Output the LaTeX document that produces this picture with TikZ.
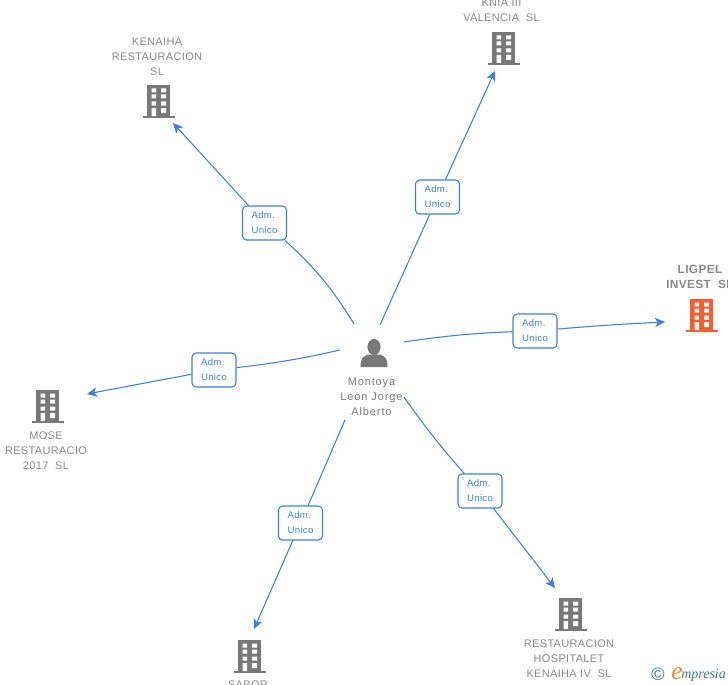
\documentclass[tikz,border=0pt]{standalone}
\usepackage{fontspec}
\setmainfont{Liberation Sans}
\newfontfamily\logofont{Liberation Serif}
\newfontfamily\trackedfont[LetterSpace=3]{Liberation Sans}
\newfontfamily\wideperson[LetterSpace=8]{Liberation Sans}
\usetikzlibrary{arrows.meta}
\definecolor{linkblue}{HTML}{3B82E4}
\definecolor{icongray}{HTML}{787878}
\definecolor{labelgray}{HTML}{8A8A8A}
\definecolor{personlabel}{HTML}{7A7A7A}
\definecolor{accent}{HTML}{FF5A2C}
\definecolor{logoteal}{HTML}{3F7C96}
\definecolor{logoorange}{HTML}{F08A1D}
\newcommand{\rolelabel}{\raisebox{-1.4pt}{Adm.}\\\raisebox{-1.4pt}{Unico}}
\tikzset{
  x=0.75pt,y=-0.75pt,
  linkline/.style={draw=linkblue,line width=0.8pt},
  linkarrow/.style={linkline,-{Stealth[length=7.5pt,width=7pt,inset=2pt]}},
  rolebox/.style={draw=linkblue,fill=white,rounded corners=3pt,line width=0.8pt,
    minimum width=33pt,minimum height=25.5pt,inner sep=0pt,align=left,text=linkblue,
    font=\trackedfont\fontsize{7.2}{11.25}\selectfont},
  entity/.style={text=labelgray,align=center,anchor=north,inner sep=0pt,
    font=\trackedfont\fontsize{8.25}{11.25}\selectfont},
  person/.style={entity,text=personlabel,font=\wideperson\fontsize{8.25}{11.25}\selectfont},
}
% building: #1 centre x, #2 bottom y, #3 colour, #4 name
\newcommand{\buildingicon}[4]{%
  \begin{scope}[shift={(#1,#2)}]
    \coordinate (#4) at (0,-16);
    \fill[#3] (-12,-33) rectangle (11,-2);
    \fill[#3] (-16,-2) rectangle (16,0);
    \fill[white] \foreach \r in {-29.5,-23.5,-16.5}{
      (-7.5,\r) rectangle (-3,\r+4) (2,\r) rectangle (7,\r+4)};
    \fill[white] (-7.5,-10) rectangle (-3,-2) (2,-10) rectangle (7,-5);
  \end{scope}}
\begin{document}
\begin{tikzpicture}
\useasboundingbox (0,0) rectangle (728,685);
\clip (0,0) rectangle (728,685);

% free ends of the connectors
\coordinate (kS) at (354,324); \coordinate (kE) at (173,123);
\coordinate (vS) at (380,325); \coordinate (vE) at (495,71);
\coordinate (lS) at (404,342); \coordinate (lE) at (665,322);
\coordinate (mS) at (340,350); \coordinate (mE) at (87,394);
\coordinate (sS) at (345,420); \coordinate (sE) at (254,629);
\coordinate (rS) at (404,397); \coordinate (rE) at (555,588);

% role boxes
\node[rolebox] (kB) at (264.5,223) {\rolelabel};
\node[rolebox] (vB) at (437.5,197) {\rolelabel};
\node[rolebox] (lB) at (535,331) {\rolelabel};
\node[rolebox] (mB) at (214,370) {\rolelabel};
\node[rolebox] (sB) at (300.5,523) {\rolelabel};
\node[rolebox] (rB) at (480,491) {\rolelabel};

% connectors
\draw[linkline] (kS) to[bend right=8] (kB);
\draw[linkarrow] (kB) -- (kE);
\draw[linkline] (vS) -- (vB);
\draw[linkarrow] (vB) -- (vE);
\draw[linkline] (lS) to[bend left=3] (lB);
\draw[linkarrow] (lB) to[bend left=1] (lE);
\draw[linkline] (mS) to[bend left=3] (mB);
\draw[linkarrow] (mB) -- (mE);
\draw[linkline] (sS) -- (sB);
\draw[linkarrow] (sB) -- (sE);
\draw[linkline] (rS) to[bend right=3] (rB);
\draw[linkarrow] (rB) -- (rE);

% buildings
\buildingicon{159}{118}{icongray}{kI}
\buildingicon{504}{65}{icongray}{vI}
\buildingicon{702}{332}{accent}{lI}
\buildingicon{48}{423}{icongray}{mI}
\buildingicon{250}{673}{icongray}{sI}
\buildingicon{571}{631}{icongray}{rI}

% person
\fill[icongray] (374,347) ellipse (6.6 and 8);
\fill[icongray] (360.5,367) .. controls (360.5,359) and (362,357) .. (368,354.5)
  -- (380,354.5) .. controls (386,357) and (387.5,359) .. (387.5,367) -- cycle;

% labels
\node[entity] (kT) at (157,38) {KENAIHA\\RESTAURACION\\SL};
\node[entity] (vT) at (501.5,-1) {KNIA III\\VALENCIA\ \ SL};
\node[entity,font=\trackedfont\bfseries\fontsize{8.9}{11.25}\selectfont] (lT) at (700,265) {LIGPEL\\INVEST\ \ SL};
\node[entity] (mT) at (46,432) {MOSE\\RESTAURACIO\\2017\ \ SL};
\node[entity] (sT) at (248,681) {SABOR};
\node[entity] (rT) at (569,640) {RESTAURACION\\HOSPITALET\\KENAIHA IV\ \ SL};
\node[person] (pT) at (371.5,378) {Montoya\\Leon Jorge\\Alberto};

% logo
\node[text=logoteal,inner sep=0pt,font=\fontsize{13.5}{13.5}\selectfont] (logoC) at (658,674) {©};
\node[text=logoorange,inner sep=0pt,anchor=base west,font=\logofont\itshape\fontsize{19}{19}\selectfont] (logoE) at (671,679) {e};
\node[text=logoteal,inner sep=0pt,anchor=base west,font=\logofont\itshape\fontsize{10.5}{10}\selectfont] (logoT) at (681,678) {mpresia};
\end{tikzpicture}
\end{document}
